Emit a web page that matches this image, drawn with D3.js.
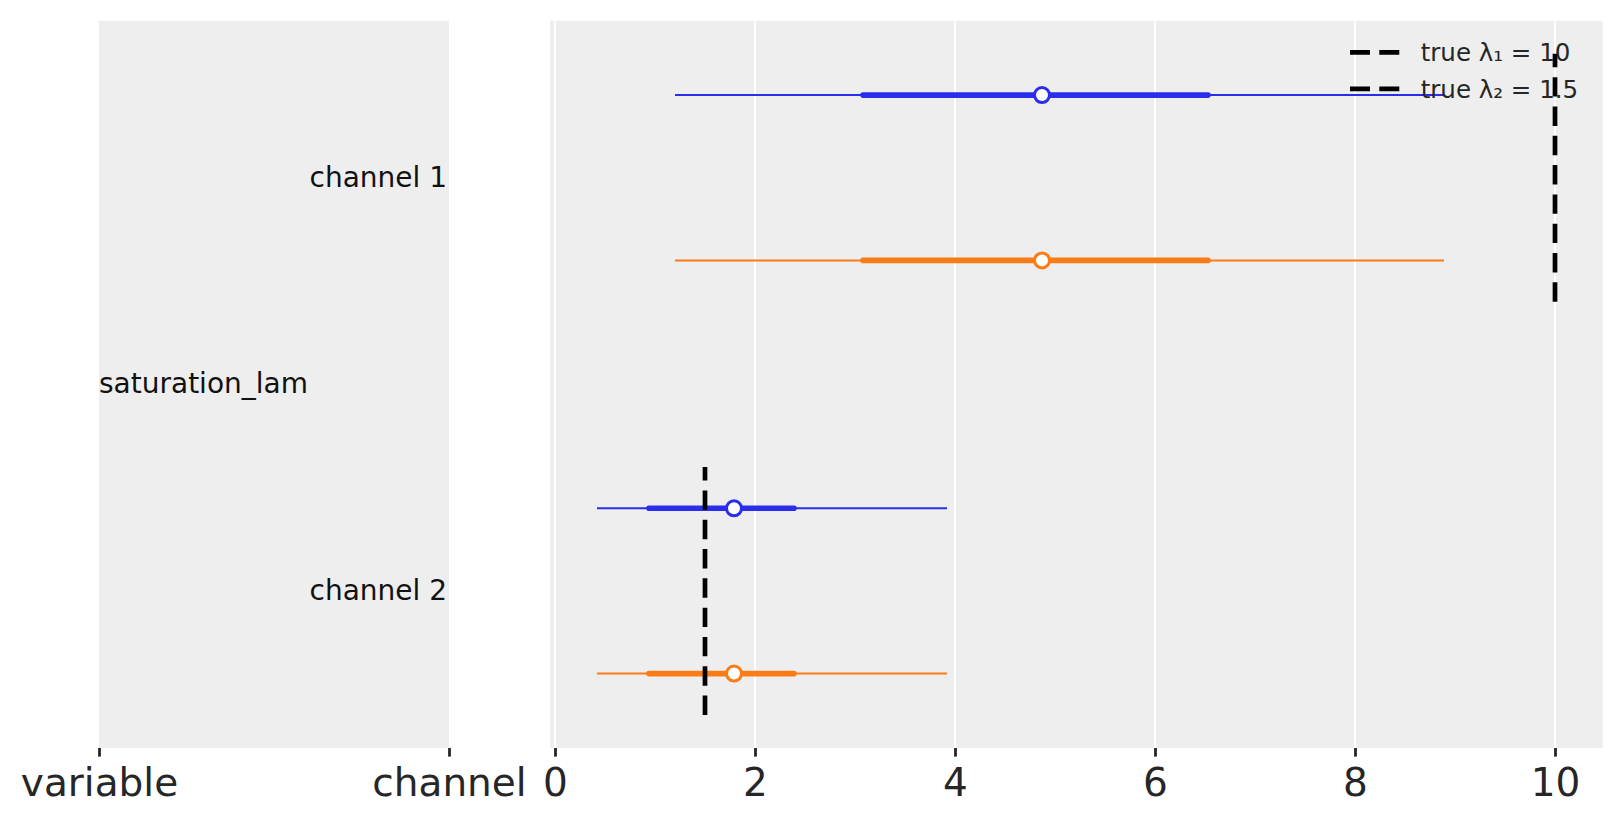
<!DOCTYPE html>
<html>
<head>
<meta charset="utf-8">
<title>saturation_lam forest plot</title>
<script src="https://cdn.jsdelivr.net/npm/d3@7"></script>
<style>
  html, body { margin: 0; padding: 0; background: #fff; }
  svg { display: block; font-family: "DejaVu Sans", sans-serif; }
</style>
</head>
<body>
<div id="chart"></div>
<script>
// Data
const CHANNELS = ["channel 1", "channel 2"];
const VARIABLE = "saturation_lam";
const SERIES = ["series 0", "series 1"];
// per channel, same for both series
const HDI_WIDE_LOW = [1.20, 0.42];
const HDI_WIDE_HIGH = [8.89, 3.92];
const HDI_NARROW_LOW = [3.08, 0.94];
const HDI_NARROW_HIGH = [6.53, 2.39];
const MEDIANS = [4.87, 1.79];
const TRUE_VALUES = [10, 1.5];
const LEGEND_LABELS = ["true λ₁ = 10", "true λ₂ = 1.5"];
const X_TICKS = [0, 2, 4, 6, 8, 10];
const LABEL_TICKS = ["variable", "channel"];

// Configuration
const CONFIG = {
    width: 1623,
    height: 823,
    top: 20.7,
    bottom: 748,
    labelPanel: [99, 449],
    plotPanel: [550, 1602.7],
    xDomain: [-0.05, 10.477],
    yDomain: [-0.45, 3.95],
    colors: ["#2a2eec", "#fa7c17"],
    background: "#eeeeee",
    textColor: "#262626"
};

// rows: one per channel x series, y position in "row units"
const rows = CHANNELS.flatMap((ch, ci) => SERIES.map((s, si) => ({
    channel: ch,
    series: si,
    pos: ci * 2.5 + si,
    wideLow: HDI_WIDE_LOW[ci],
    wideHigh: HDI_WIDE_HIGH[ci],
    narrowLow: HDI_NARROW_LOW[ci],
    narrowHigh: HDI_NARROW_HIGH[ci],
    median: MEDIANS[ci]
})));
const channelCenter = ci => ci * 2.5 + 0.5;

const svg = d3.select("#chart").append("svg")
    .attr("width", CONFIG.width)
    .attr("height", CONFIG.height);

const x = d3.scaleLinear().domain(CONFIG.xDomain).range(CONFIG.plotPanel);
const y = d3.scaleLinear().domain(CONFIG.yDomain).range([CONFIG.top, CONFIG.bottom]);
const xl = d3.scalePoint().domain(LABEL_TICKS).range(CONFIG.labelPanel);

// panel backgrounds
svg.append("rect")
    .attr("x", CONFIG.labelPanel[0]).attr("y", CONFIG.top)
    .attr("width", CONFIG.labelPanel[1] - CONFIG.labelPanel[0])
    .attr("height", CONFIG.bottom - CONFIG.top)
    .attr("fill", CONFIG.background);
svg.append("rect")
    .attr("x", CONFIG.plotPanel[0]).attr("y", CONFIG.top)
    .attr("width", CONFIG.plotPanel[1] - CONFIG.plotPanel[0])
    .attr("height", CONFIG.bottom - CONFIG.top)
    .attr("fill", CONFIG.background);

// grid
svg.append("g").selectAll("line")
    .data(X_TICKS)
    .join("line")
        .attr("x1", d => x(d)).attr("x2", d => x(d))
        .attr("y1", CONFIG.top).attr("y2", CONFIG.bottom)
        .attr("stroke", "#fff")
        .attr("stroke-width", 2);

// bottom axes (ticks + labels, no domain line)
function styleAxis(g) {
    g.select(".domain").remove();
    g.selectAll(".tick line")
        .attr("stroke", CONFIG.textColor)
        .attr("stroke-width", 2.8);
    g.selectAll(".tick text")
        .attr("fill", CONFIG.textColor)
        .attr("font-size", "39px")
        .attr("font-family", "DejaVu Sans, sans-serif")
        .attr("dy", 0)
        .attr("y", 48);
}
svg.append("g")
    .attr("transform", `translate(0,${CONFIG.bottom})`)
    .call(d3.axisBottom(x).tickValues(X_TICKS).tickFormat(d3.format("d")).tickSize(8.6))
    .call(styleAxis);
svg.append("g")
    .attr("transform", `translate(0,${CONFIG.bottom})`)
    .call(d3.axisBottom(xl).tickSize(8.6))
    .call(styleAxis);

// label panel texts
svg.append("g").selectAll("text")
    .data(CHANNELS)
    .join("text")
        .attr("x", CONFIG.labelPanel[1] - 2)
        .attr("y", (d, i) => y(channelCenter(i)) + 9.2)
        .attr("text-anchor", "end")
        .attr("font-size", "28px")
        .attr("fill", "#111")
        .text(d => d);
svg.append("text")
    .attr("x", CONFIG.labelPanel[0])
    .attr("y", y((channelCenter(0) + channelCenter(1)) / 2) + 8.2)
    .attr("font-size", "28px")
    .attr("fill", "#111")
    .text(VARIABLE);

// HDI lines
const marks = svg.append("g");
marks.selectAll("line.wide")
    .data(rows)
    .join("line")
        .attr("class", "wide")
        .attr("x1", d => x(d.wideLow)).attr("x2", d => x(d.wideHigh))
        .attr("y1", d => y(d.pos)).attr("y2", d => y(d.pos))
        .attr("stroke", d => CONFIG.colors[d.series])
        .attr("stroke-width", 2);
marks.selectAll("line.narrow")
    .data(rows)
    .join("line")
        .attr("class", "narrow")
        .attr("x1", d => x(d.narrowLow)).attr("x2", d => x(d.narrowHigh))
        .attr("y1", d => y(d.pos)).attr("y2", d => y(d.pos))
        .attr("stroke", d => CONFIG.colors[d.series])
        .attr("stroke-width", 5.6)
        .attr("stroke-linecap", "round");
marks.selectAll("circle")
    .data(rows)
    .join("circle")
        .attr("cx", d => x(d.median))
        .attr("cy", d => y(d.pos))
        .attr("r", 7.5)
        .attr("fill", "#fff")
        .attr("stroke", d => CONFIG.colors[d.series])
        .attr("stroke-width", 3);

// legend
const legend = svg.append("g");
LEGEND_LABELS.forEach((label, i) => {
    const ly = 52.3 + i * 36.5;
    legend.append("line")
        .attr("x1", 1350).attr("x2", 1400)
        .attr("y1", ly).attr("y2", ly)
        .attr("stroke", "#000")
        .attr("stroke-width", 4.7)
        .attr("stroke-dasharray", "20,9.3");
    legend.append("text")
        .attr("x", 1420.7)
        .attr("y", ly + 8.8)
        .attr("font-size", "24.5px")
        .attr("fill", CONFIG.textColor)
        .text(label);
});

// true value reference lines, drawn bottom to top so dashes start at the bottom
svg.append("g").selectAll("line")
    .data(TRUE_VALUES)
    .join("line")
        .attr("x1", d => x(d)).attr("x2", d => x(d))
        .attr("y1", (d, i) => y(channelCenter(i) + 0.75))
        .attr("y2", (d, i) => y(channelCenter(i) - 0.75))
        .attr("stroke", "#000")
        .attr("stroke-width", 4.7)
        .attr("stroke-dasharray", "19.4,9.9");
</script>
</body>
</html>
